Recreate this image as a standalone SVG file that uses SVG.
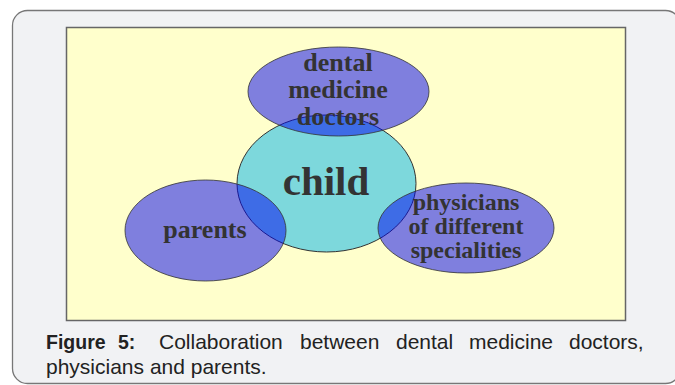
<svg xmlns="http://www.w3.org/2000/svg" width="675" height="385" viewBox="0 0 675 385">
<style>
.lbl{font-family:"Liberation Serif","Times New Roman",serif;font-weight:bold;fill:#333;text-anchor:middle}
.blue{fill:#0000f0;fill-opacity:.5;stroke:#333;stroke-opacity:.8;stroke-width:1}
.cap{font-family:"Liberation Sans",Arial,sans-serif;font-size:21px;fill:#222}
</style>
<rect x="12.5" y="10.5" width="668" height="373" rx="15" fill="#f1f2f4" stroke="#777" stroke-width="1.3"/>
<rect x="66.5" y="27.5" width="559" height="293" fill="#ffffcc" stroke="#666" stroke-width="1.5"/>
<g id="child">
<ellipse cx="326.5" cy="183.5" rx="89.5" ry="68.5" fill="#7dd8dc" stroke="#333" stroke-width="1"/>
</g>
<g id="dental">
<ellipse class="blue" cx="338.5" cy="91.5" rx="90.5" ry="44.5"/>
</g>
<g id="parents">
<ellipse class="blue" cx="205.5" cy="230.5" rx="80.5" ry="50.5"/>
</g>
<g id="physicians">
<ellipse class="blue" cx="466" cy="228" rx="88" ry="45"/>
</g>
<g id="labels">
<text class="lbl" font-size="26" x="338" y="71">dental</text>
<text class="lbl" font-size="26" x="338" y="98">medicine</text>
<text class="lbl" font-size="26" x="338" y="125">doctors</text>
<text class="lbl" font-size="41" x="326" y="195">child</text>
<text class="lbl" font-size="26" x="205" y="238">parents</text>
<text class="lbl" font-size="24" x="466" y="210">physicians</text>
<text class="lbl" font-size="24" x="466" y="234">of different</text>
<text class="lbl" font-size="24" x="466" y="258">specialities</text>
</g>
<g id="caption" class="cap">
<text x="46" y="349" font-weight="bold" font-size="19.5">Figure</text>
<text x="118" y="349" font-weight="bold" font-size="19.5">5:</text>
<text x="159" y="349">Collaboration</text>
<text x="300" y="349">between</text>
<text x="396" y="349">dental</text>
<text x="469" y="349">medicine</text>
<text x="569" y="349">doctors,</text>
<text x="46" y="374">physicians and parents.</text>
</g>
</svg>
